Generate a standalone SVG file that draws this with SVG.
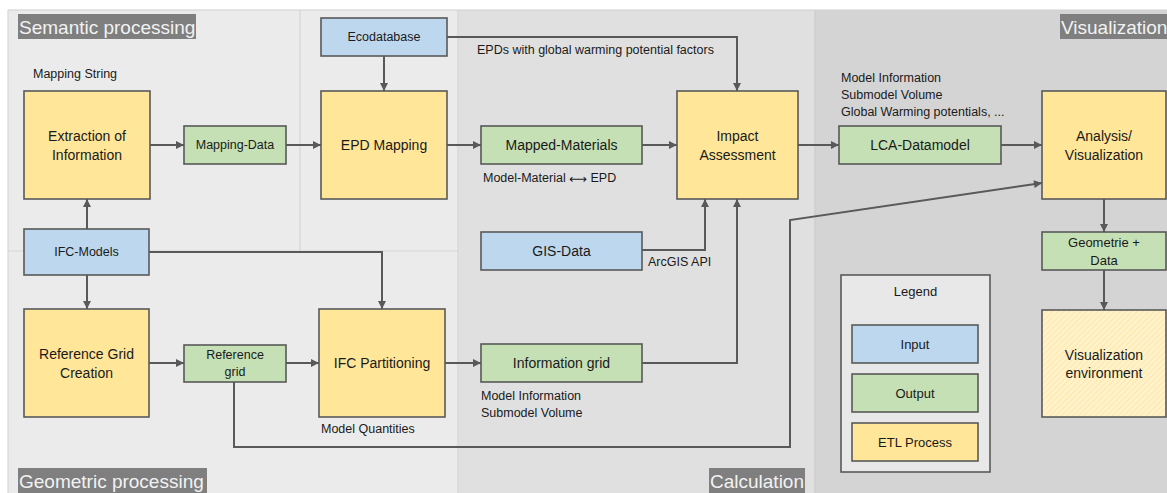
<svg xmlns="http://www.w3.org/2000/svg" width="1167" height="493" viewBox="0 0 1167 493">
<style>
text{font-family:"Liberation Sans",Arial,sans-serif;fill:#1a1a1a;}
.c{text-anchor:middle;dominant-baseline:central;}
.big{font-size:14px;}
.sm{font-size:12.5px;}
.lg{font-size:13px;}
.lbl{font-size:12.5px;dominant-baseline:central;}
.hdr{font-size:19px;fill:#f2f2f2;dominant-baseline:central;}
.hbox{fill:#7f7f7f;}
.in{fill:#bdd7ee;stroke:#595959;stroke-width:1.6;}
.out{fill:#c5e0b4;stroke:#595959;stroke-width:1.6;}
.etl{fill:#ffe699;stroke:#595959;stroke-width:1.6;}
.hat{fill:url(#hatch);stroke:#595959;stroke-width:1.6;}
.con{fill:none;stroke:#595959;stroke-width:2;marker-end:url(#arr);}
</style>
<defs>
<marker id="arr" viewBox="0 0 10 10" refX="10" refY="5" markerWidth="9" markerHeight="8" markerUnits="userSpaceOnUse" orient="auto">
<path d="M0,0 L10,5 L0,10 z" fill="#595959"/>
</marker>
<pattern id="hatch" width="4" height="4" patternUnits="userSpaceOnUse" patternTransform="rotate(45)">
<rect width="4" height="4" fill="#fff2cc"/>
<line x1="0" y1="0" x2="0" y2="4" stroke="#ffe699" stroke-width="1.6"/>
</pattern>
</defs>
<rect width="1167" height="493" fill="#ffffff"/>
<g id="panels">
<rect x="8" y="10" width="450" height="483" fill="#ebebeb"/>
<rect x="458" y="10" width="357" height="483" fill="#e0e0e0"/>
<rect x="815" y="10" width="352" height="483" fill="#d4d4d4"/>
<line x1="8" y1="10" x2="1167" y2="10" stroke="#cfcfcf" stroke-width="1.2"/>
<line x1="8" y1="10" x2="8" y2="493" stroke="#d6d6d6" stroke-width="1.2"/>
<line x1="300" y1="10" x2="300" y2="251" stroke="#d6d6d6" stroke-width="1.2"/>
<line x1="8" y1="251" x2="458" y2="251" stroke="#d6d6d6" stroke-width="1.2"/>
<line x1="458" y1="10" x2="458" y2="493" stroke="#d6d6d6" stroke-width="1.2"/>
<line x1="815" y1="10" x2="815" y2="493" stroke="#cccccc" stroke-width="1.2"/>
<rect class="hbox" x="18" y="14" width="178" height="25"/>
<text class="hdr" x="19" y="27">Semantic processing</text>
<rect class="hbox" x="18" y="468" width="189" height="25"/>
<text class="hdr" x="19" y="481">Geometric processing</text>
<rect class="hbox" x="709" y="468" width="96" height="25"/>
<text class="hdr" x="710" y="481">Calculation</text>
<rect class="hbox" x="1060" y="14" width="107" height="25"/>
<text class="hdr" x="1061" y="27">Visualization</text>
</g>
<g id="connectors">
<line class="con" x1="150" y1="145" x2="184" y2="145"/>
<line class="con" x1="286" y1="145" x2="321" y2="145"/>
<line class="con" x1="384" y1="56" x2="384" y2="91"/>
<line class="con" x1="447" y1="145" x2="481" y2="145"/>
<line class="con" x1="642" y1="145" x2="677" y2="145"/>
<polyline class="con" points="447,37 737,37 737,91"/>
<line class="con" x1="798" y1="145" x2="839" y2="145"/>
<line class="con" x1="1001" y1="145" x2="1042" y2="145"/>
<polyline class="con" points="642,250 705,250 705,199"/>
<polyline class="con" points="642,363 737,363 737,199"/>
<polyline class="con" points="234,382 234,447 790,447 790,220 1042,183"/>
<line class="con" x1="87" y1="229" x2="87" y2="199"/>
<line class="con" x1="87" y1="275" x2="87" y2="309"/>
<polyline class="con" points="149,252 382,252 382,309"/>
<line class="con" x1="149" y1="363" x2="184" y2="363"/>
<line class="con" x1="286" y1="363" x2="319" y2="363"/>
<line class="con" x1="445" y1="363" x2="481" y2="363"/>
<line class="con" x1="1104" y1="199" x2="1104" y2="232"/>
<line class="con" x1="1104" y1="270" x2="1104" y2="310"/>
</g>
<g id="labels">
<text class="lbl" x="33" y="74">Mapping String</text>
<text class="lbl" x="477" y="50">EPDs with global warming potential factors</text>
<text class="lbl" x="483" y="178">Model-Material <tspan style="font-family:'DejaVu Sans',sans-serif">⟷</tspan> EPD</text>
<text class="lbl" x="841" y="78">Model Information</text>
<text class="lbl" x="841" y="95">Submodel Volume</text>
<text class="lbl" x="841" y="112">Global Warming potentials, ...</text>
<text class="lbl" x="648" y="262">ArcGIS API</text>
<text class="lbl" x="481" y="396">Model Information</text>
<text class="lbl" x="481" y="413">Submodel Volume</text>
<text class="lbl" x="321" y="429">Model Quantities</text>
</g>
<g id="ecodatabase"><rect class="in" x="321" y="18" width="126" height="38"/><text class="c sm" x="384" y="37">Ecodatabase</text></g>
<g id="extraction"><rect class="etl" x="24" y="91" width="126" height="108"/><text class="c big" x="87" y="136">Extraction of</text><text class="c big" x="87" y="154.5">Information</text></g>
<g id="mapping-data"><rect class="out" x="184" y="126" width="102" height="38"/><text class="c sm" x="235" y="145">Mapping-Data</text></g>
<g id="epd-mapping"><rect class="etl" x="321" y="91" width="126" height="108"/><text class="c big" x="384" y="145">EPD Mapping</text></g>
<g id="mapped-materials"><rect class="out" x="481" y="126" width="161" height="38"/><text class="c big" x="561.5" y="145">Mapped-Materials</text></g>
<g id="impact"><rect class="etl" x="677" y="91" width="121" height="108"/><text class="c big" x="737.5" y="136">Impact</text><text class="c big" x="737.5" y="154.5">Assessment</text></g>
<g id="lca-datamodel"><rect class="out" x="839" y="126" width="162" height="38"/><text class="c big" x="920" y="145">LCA-Datamodel</text></g>
<g id="analysis"><rect class="etl" x="1042" y="91" width="124" height="108"/><text class="c big" x="1104" y="136">Analysis/</text><text class="c big" x="1104" y="154.5">Visualization</text></g>
<g id="geometrie"><rect class="out" x="1042" y="232" width="124" height="38"/><text class="c lg" x="1104" y="242.5">Geometrie +</text><text class="c lg" x="1104" y="260.5">Data</text></g>
<g id="vis-env"><rect class="hat" x="1042" y="310" width="124" height="107"/><text class="c big" x="1104" y="354.5">Visualization</text><text class="c big" x="1104" y="373">environment</text></g>
<g id="ifc-models"><rect class="in" x="24" y="229" width="125" height="46"/><text class="c sm" x="86.5" y="252">IFC-Models</text></g>
<g id="gis-data"><rect class="in" x="481" y="232" width="161" height="38"/><text class="c big" x="561.5" y="251">GIS-Data</text></g>
<g id="ref-grid-creation"><rect class="etl" x="24" y="309" width="125" height="108"/><text class="c big" x="86.5" y="354">Reference Grid</text><text class="c big" x="86.5" y="372.5">Creation</text></g>
<g id="ref-grid"><rect class="out" x="184" y="345" width="102" height="37"/><text class="c sm" x="235" y="355">Reference</text><text class="c sm" x="235" y="372">grid</text></g>
<g id="ifc-partitioning"><rect class="etl" x="319" y="309" width="126" height="108"/><text class="c big" x="382" y="363">IFC Partitioning</text></g>
<g id="info-grid"><rect class="out" x="481" y="344" width="161" height="38"/><text class="c big" x="561.5" y="363">Information grid</text></g>
<g id="legend">
<rect x="841" y="275" width="149" height="197" fill="#e8e8e8" stroke="#595959" stroke-width="1.6"/>
<text class="c lg" x="915.5" y="291">Legend</text>
<rect class="in" x="852" y="325" width="126" height="38"/><text class="c lg" x="915" y="344">Input</text>
<rect class="out" x="852" y="374" width="126" height="38"/><text class="c lg" x="915" y="393">Output</text>
<rect class="etl" x="852" y="423" width="126" height="38"/><text class="c lg" x="915" y="442">ETL Process</text>
</g>
</svg>
